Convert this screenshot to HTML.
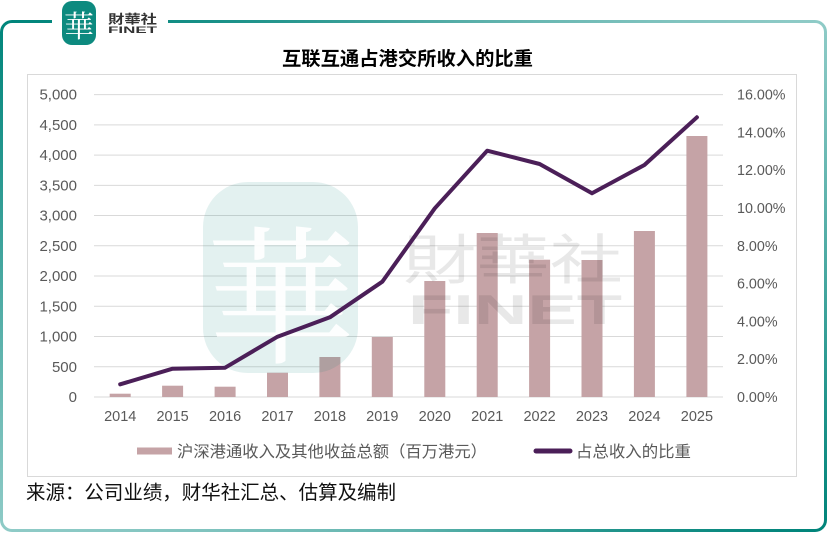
<!DOCTYPE html>
<html>
<head>
<meta charset="utf-8">
<style>
  html,body{margin:0;padding:0;background:#fff;}
  body{width:828px;height:553px;position:relative;overflow:hidden;}
  .frame{position:absolute;left:0;top:20px;width:827px;height:512px;border-radius:12px;
    background:conic-gradient(from 0deg at 50% 50%, #4aa7a1 0deg, #8fcbc7 58deg, #00847a 122deg, #5fb3ad 180deg, #8fcbc7 238deg, #00857b 302deg, #4aa7a1 360deg);}
  .inner{position:absolute;left:3px;top:3px;right:3px;bottom:3px;background:#fff;border-radius:9px;}
  svg{position:absolute;left:0;top:0;}
  .cjk{font-family:"Liberation Sans","Noto Sans CJK SC",sans-serif;}
  .ax{font-family:"Liberation Sans",sans-serif;fill:#595959;}
</style>
</head>
<body>
<div class="frame"><div class="inner"></div></div>
<svg width="828" height="553" viewBox="0 0 828 553" xmlns="http://www.w3.org/2000/svg">
  <!-- logo gap -->
  <rect x="52" y="14" width="116" height="14" fill="#fff"/>
  <!-- top logo -->
  <rect x="62" y="1" width="34" height="44" rx="10" fill="#0d8a7f"/>
  <text x="79" y="37" text-anchor="middle" font-family="'Noto Serif CJK SC',serif" font-size="30" fill="#fff">華</text>
  <text x="108" y="23.5" font-family="'Noto Sans CJK TC','Noto Sans CJK SC',sans-serif" font-size="12.5" font-weight="bold" fill="#333" textLength="49" lengthAdjust="spacingAndGlyphs">財華社</text>
  <text x="108" y="33" font-family="'Liberation Sans',sans-serif" font-size="9.5" font-weight="bold" fill="#333" textLength="49" lengthAdjust="spacingAndGlyphs">FINET</text>

  <!-- chart box -->
  <rect x="27.5" y="74.5" width="769" height="402" fill="#fff" stroke="#d9d9d9" stroke-width="1"/>

  <!-- title -->
  <text x="282" y="65" class="cjk" font-size="19" font-weight="bold" fill="#000" textLength="251" lengthAdjust="spacingAndGlyphs">互联互通占港交所收入的比重</text>

  <!-- gridlines -->
  <g stroke="#d9d9d9" stroke-width="1">
    <line x1="94" x2="723" y1="397" y2="397"/>
    <line x1="94" x2="723" y1="366.76" y2="366.76"/>
    <line x1="94" x2="723" y1="336.52" y2="336.52"/>
    <line x1="94" x2="723" y1="306.28" y2="306.28"/>
    <line x1="94" x2="723" y1="276.04" y2="276.04"/>
    <line x1="94" x2="723" y1="245.8" y2="245.8"/>
    <line x1="94" x2="723" y1="215.56" y2="215.56"/>
    <line x1="94" x2="723" y1="185.32" y2="185.32"/>
    <line x1="94" x2="723" y1="155.08" y2="155.08"/>
    <line x1="94" x2="723" y1="124.84" y2="124.84"/>
    <line x1="94" x2="723" y1="94.6" y2="94.6"/>
  </g>

  <!-- left axis labels -->
  <g class="ax" font-size="15" text-anchor="end">
    <text x="77" y="402">0</text>
    <text x="77" y="371.8">500</text>
    <text x="77" y="341.5">1,000</text>
    <text x="77" y="311.3">1,500</text>
    <text x="77" y="281">2,000</text>
    <text x="77" y="250.8">2,500</text>
    <text x="77" y="220.6">3,000</text>
    <text x="77" y="190.3">3,500</text>
    <text x="77" y="160.1">4,000</text>
    <text x="77" y="129.8">4,500</text>
    <text x="77" y="99.6">5,000</text>
  </g>
  <!-- right axis labels -->
  <g class="ax" font-size="14.3">
    <text x="737" y="402">0.00%</text>
    <text x="737" y="364.2">2.00%</text>
    <text x="737" y="326.4">4.00%</text>
    <text x="737" y="288.6">6.00%</text>
    <text x="737" y="250.8">8.00%</text>
    <text x="737" y="213">10.00%</text>
    <text x="737" y="175.2">12.00%</text>
    <text x="737" y="137.4">14.00%</text>
    <text x="737" y="99.6">16.00%</text>
  </g>
  <!-- x labels -->
  <g class="ax" font-size="14.5" text-anchor="middle">
    <text x="120.2" y="421">2014</text>
    <text x="172.6" y="421">2015</text>
    <text x="225.1" y="421">2016</text>
    <text x="277.5" y="421">2017</text>
    <text x="329.9" y="421">2018</text>
    <text x="382.3" y="421">2019</text>
    <text x="434.8" y="421">2020</text>
    <text x="487.2" y="421">2021</text>
    <text x="539.6" y="421">2022</text>
    <text x="592.0" y="421">2023</text>
    <text x="644.4" y="421">2024</text>
    <text x="696.9" y="421">2025</text>
  </g>

  <!-- bars -->
  <g fill="#c5a3a6">
    <rect x="109.7" y="393.7" width="21" height="3.3"/>
    <rect x="162.1" y="385.7" width="21" height="11.3"/>
    <rect x="214.6" y="386.7" width="21" height="10.3"/>
    <rect x="267.0" y="372.7" width="21" height="24.3"/>
    <rect x="319.4" y="357" width="21" height="40"/>
    <rect x="371.8" y="337" width="21" height="60"/>
    <rect x="424.3" y="281" width="21" height="116"/>
    <rect x="476.7" y="233" width="21" height="164"/>
    <rect x="529.1" y="259.7" width="21" height="137.3"/>
    <rect x="581.5" y="260" width="21" height="137"/>
    <rect x="633.9" y="231" width="21" height="166"/>
    <rect x="686.4" y="136" width="21" height="261"/>
  </g>

  <!-- watermark -->
  <rect x="203" y="182" width="155" height="191" rx="45" fill="rgba(0,128,118,0.11)"/>
  <text x="281" y="352" text-anchor="middle" font-family="'Noto Serif CJK SC',serif" font-size="150" fill="#fff" fill-opacity="0.9">華</text>
  <text x="403" y="279" font-family="'Noto Sans CJK TC','Noto Sans CJK SC',sans-serif" font-size="54" fill="rgba(0,0,0,0.09)" textLength="220" lengthAdjust="spacingAndGlyphs">財華社</text>
  <text x="408" y="324" font-family="'Liberation Sans',sans-serif" font-size="42" font-weight="bold" fill="rgba(0,0,0,0.09)" textLength="214" lengthAdjust="spacingAndGlyphs">FINET</text>

  <!-- line -->
  <polyline fill="none" stroke="#4b1f58" stroke-width="4" stroke-linejoin="round" stroke-linecap="round"
    points="120.2,384.3 172.6,368.7 225.1,367.7 277.5,336.7 329.9,317.3 382.3,281.7 434.8,208.3 487.2,150.7 539.6,164 592.0,193.3 644.4,165 696.9,117.3"/>

  <!-- legend -->
  <rect x="137" y="447.5" width="35" height="7" fill="#c5a3a6"/>
  <text x="177" y="457" class="cjk" font-size="16" fill="#595959" textLength="310" lengthAdjust="spacingAndGlyphs">沪深港通收入及其他收益总额（百万港元）</text>
  <line x1="536" y1="451" x2="570" y2="451" stroke="#4b1f58" stroke-width="5" stroke-linecap="round"/>
  <text x="576" y="457" class="cjk" font-size="16" fill="#595959" textLength="115" lengthAdjust="spacingAndGlyphs">占总收入的比重</text>

  <!-- source -->
  <text x="26" y="499" class="cjk" font-size="19.5" fill="#111" textLength="370" lengthAdjust="spacingAndGlyphs">来源：公司业绩，财华社汇总、估算及编制</text>
</svg>
</body>
</html>
